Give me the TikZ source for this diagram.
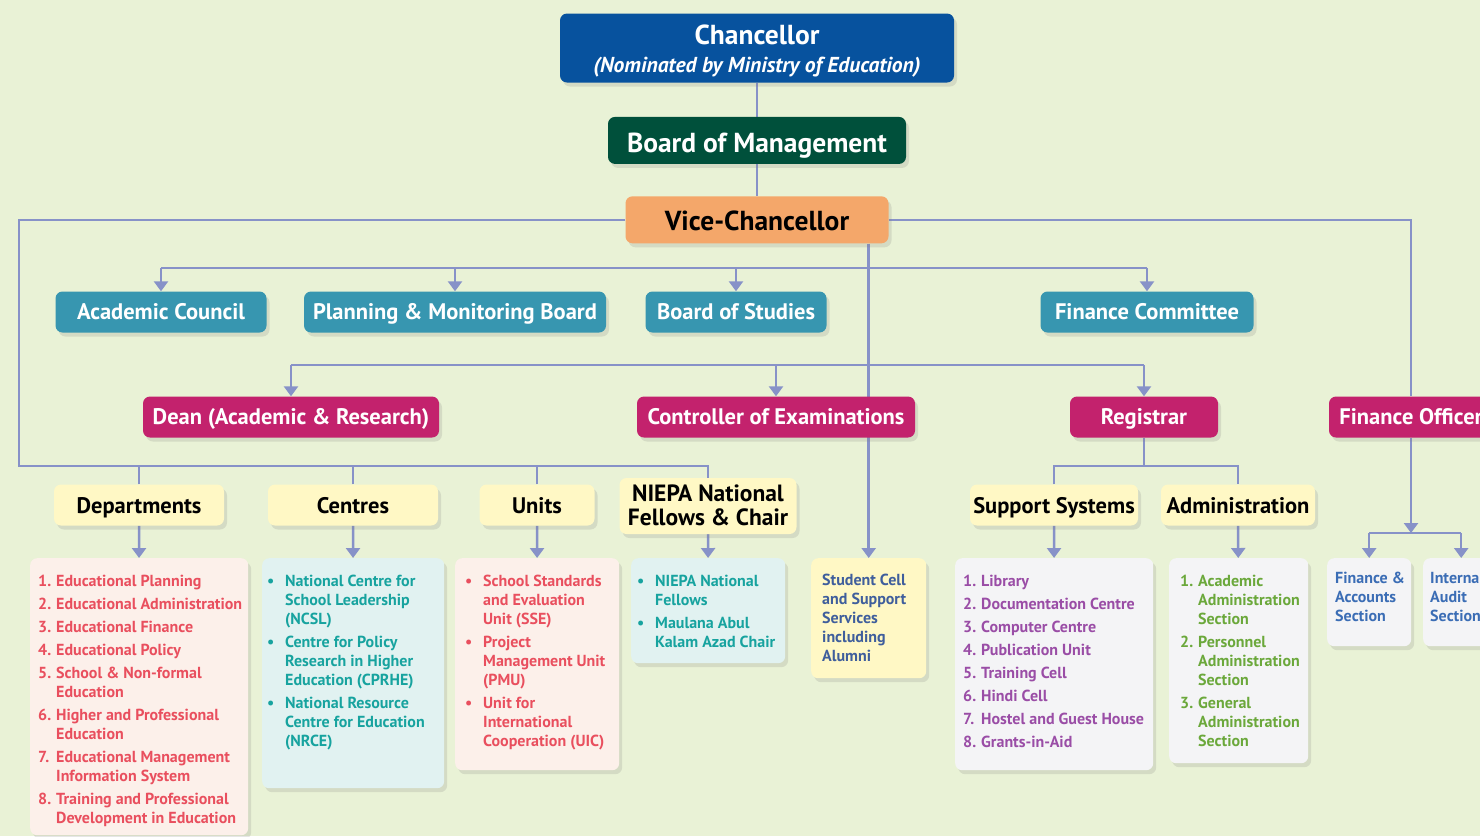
\documentclass[tikz,border=0pt]{standalone}
\usepackage{fontspec}
\setmainfont{PT Sans}
\usepackage{xcolor}
\usetikzlibrary{arrows.meta}
\usetikzlibrary{positioning}
\usetikzlibrary{shadows}

\definecolor{bgcol}{HTML}{E9F2D6}
\definecolor{chancol}{HTML}{07529E}
\definecolor{bomcol}{HTML}{00503B}
\definecolor{vccol}{HTML}{F4A76A}
\definecolor{tealcol}{HTML}{3796B0}
\definecolor{magcol}{HTML}{C3226D}
\definecolor{yelcol}{HTML}{FFF8C5}
\definecolor{wirecol}{HTML}{8792C8}
\definecolor{redtxt}{HTML}{E94F5E}
\definecolor{redbg}{HTML}{FCF0EA}
\definecolor{teatxt}{HTML}{17A39F}
\definecolor{teabg}{HTML}{E1F2F1}
\definecolor{stutxt}{HTML}{3F5E9C}
\definecolor{purtxt}{HTML}{9A4DA6}
\definecolor{greybg}{HTML}{F4F4F6}
\definecolor{grntxt}{HTML}{6BA83B}
\definecolor{blutxt}{HTML}{3B6DB5}

\pgfdeclarelayer{back}
\pgfdeclarelayer{wires}
\pgfsetlayers{back,wires,main}

\newcommand{\numlist}[1]{\begin{tabular}{@{}p{18pt}@{}l@{}}#1\end{tabular}}
\newcommand{\bullist}[1]{\begin{tabular}{@{}p{18pt}@{}l@{}}#1\end{tabular}}

\tikzset{
	box/.style={rounded corners=7pt, inner sep=0pt, align=center,
		drop shadow={opacity=0.2, shadow xshift=3pt, shadow yshift=-4pt}},
	bigbox/.style={box, text=white, text depth=0pt, font=\fontsize{27.5}{30}\selectfont\bfseries},
	tealbox/.style={box, fill=tealcol, text=white, minimum height=41pt,
		text height=15pt, text depth=0pt, font=\fontsize{22.5}{24}\selectfont\bfseries},
	redbox/.style={tealbox, fill=magcol},
	headbox/.style={box, fill=yelcol, minimum height=41pt,
		text height=17pt, text depth=0pt, font=\fontsize{22.5}{24}\selectfont\bfseries},
	listbox/.style={box, anchor=north west, fill=greybg},
	listtext/.style={anchor=north west, inner sep=0pt, align=left,
		font=\fontsize{16}{19}\selectfont\bfseries},
	conn/.style={draw=wirecol, line width=2.5pt},
	arr/.style={conn, -{Triangle[width=14pt,length=10pt]}}
}

\begin{document}
\begin{tikzpicture}[x=1pt, y=-1pt]
	\useasboundingbox (0,0) rectangle (1480,836);
	\begin{pgfonlayer}{back}
		\fill[bgcol] (0,0) rectangle (1480,836);
	\end{pgfonlayer}

	% top of the chart
	\node[bigbox, fill=chancol, minimum width=394pt, minimum height=69pt, text height=49pt] (chan) at (757,48)
		{Chancellor\\[-2pt]{\fontsize{21.6}{24}\selectfont\itshape (Nominated by Ministry of Education)}};
	\node[bigbox, fill=bomcol, minimum width=298pt, minimum height=47pt, text height=23.5pt,
		below=34pt of chan] (bom) {Board of Management};
	\node[bigbox, fill=vccol, text=black, minimum width=263pt, minimum height=47pt, text height=21pt,
		below=32pt of bom] (vc) {Vice-Chancellor};

	% bodies
	\node[tealbox, minimum width=211pt] (ac) at (161,312) {Academic Council};
	\node[tealbox, minimum width=302pt] (pmb) at (455,312) {Planning \& Monitoring Board};
	\node[tealbox, minimum width=181pt] (bos) at (736,312) {Board of Studies};
	\node[tealbox, minimum width=213pt] (fc) at (1147,312) {Finance Committee};

	% officers
	\node[redbox, minimum width=296pt] (dean) at (291,417) {Dean (Academic \& Research)};
	\node[redbox, minimum width=278pt] (coe) at (776,417) {Controller of Examinations};
	\node[redbox, minimum width=148pt] (reg) at (1144,417) {Registrar};
	\node[redbox, minimum width=164pt] (fo) at (1411,417) {Finance Officer};

	% headings
	\node[headbox, minimum width=170pt] (dept) at (139,505) {Departments};
	\node[headbox, minimum width=170pt] (cen) at (353,505) {Centres};
	\node[headbox, minimum width=115pt] (units) at (537,505) {Units};
	\node[headbox, minimum width=177pt, minimum height=56pt, text height=38pt,
		font=\fontsize{23.5}{26}\selectfont\bfseries] (niepa) at (708,506)
		{NIEPA National\\[-2pt]Fellows \& Chair};
	\node[headbox, minimum width=168pt] (sup) at (1054,505) {Support Systems};
	\node[headbox, minimum width=154pt] (adm) at (1238,505) {Administration};

	% list boxes
	\node[listbox, fill=redbg, minimum width=218pt, minimum height=277pt] (dlist) at (30,558) {};
	\node[listbox, fill=teabg, minimum width=182pt, minimum height=230pt] (clist) at (262,558) {};
	\node[listbox, fill=redbg, minimum width=164pt, minimum height=212pt] (ulist) at (455,558) {};
	\node[listbox, fill=teabg, minimum width=154pt, minimum height=105pt] (nlist) at (631,558) {};
	\node[listbox, fill=yelcol, minimum width=115pt, minimum height=120pt] (scell) at (811,558) {};
	\node[listbox, minimum width=198pt, minimum height=212pt] (slist) at (955,558) {};
	\node[listbox, minimum width=139pt, minimum height=205pt] (alist) at (1169,558) {};
	\node[listbox, minimum width=84pt, minimum height=88pt] (fa) at (1327,558) {};
	\node[listbox, minimum width=76pt, minimum height=88pt] (ia) at (1423,558) {};

	\node[listtext, text=redtxt] (dlist-t) at ([shift={(8,15)}]dlist.north west) {\numlist{
		1. & Educational Planning\\[4pt]
		2. & Educational Administration\\[4pt]
		3. & Educational Finance\\[4pt]
		4. & Educational Policy\\[4pt]
		5. & School \& Non-formal\\ & Education\\[4pt]
		6. & Higher and Professional\\ & Education\\[4pt]
		7. & Educational Management\\ & Information System\\[4pt]
		8. & Training and Professional\\ & Development in Education}};
	\node[listtext, text=teatxt] (clist-t) at ([shift={(5,15)}]clist.north west) {\bullist{
		\textbullet & National Centre for\\ & School Leadership\\ & (NCSL)\\[4pt]
		\textbullet & Centre for Policy\\ & Research in Higher\\ & Education (CPRHE)\\[4pt]
		\textbullet & National Resource\\ & Centre for Education\\ & (NRCE)}};
	\node[listtext, text=redtxt] (ulist-t) at ([shift={(10,15)}]ulist.north west) {\bullist{
		\textbullet & School Standards\\ & and Evaluation\\ & Unit (SSE)\\[4pt]
		\textbullet & Project\\ & Management Unit\\ & (PMU)\\[4pt]
		\textbullet & Unit for\\ & International\\ & Cooperation (UIC)}};
	\node[listtext, text=teatxt] (nlist-t) at ([shift={(6,15)}]nlist.north west) {\bullist{
		\textbullet & NIEPA National\\ & Fellows\\[4pt]
		\textbullet & Maulana Abul\\ & Kalam Azad Chair}};
	\node[listtext, text=stutxt] (scell-t) at ([shift={(11,16)}]scell.north west)
		{Student Cell\\and Support\\Services\\including\\Alumni};
	\node[listtext, text=purtxt] (slist-t) at ([shift={(8,15)}]slist.north west) {\numlist{
		1. & Library\\[4pt]
		2. & Documentation Centre\\[4pt]
		3. & Computer Centre\\[4pt]
		4. & Publication Unit\\[4pt]
		5. & Training Cell\\[4pt]
		6. & Hindi Cell\\[4pt]
		7. & Hostel and Guest House\\[4pt]
		8. & Grants-in-Aid}};
	\node[listtext, text=grntxt] (alist-t) at ([shift={(11,15)}]alist.north west) {\numlist{
		1. & Academic\\ & Administration\\ & Section\\[4pt]
		2. & Personnel\\ & Administration\\ & Section\\[4pt]
		3. & General\\ & Administration\\ & Section}};
	\node[listtext, text=blutxt] (fa-t) at ([shift={(8,14)}]fa.north west)
		{Finance \&\\Accounts\\Section};
	\node[listtext, text=blutxt] (ia-t) at ([shift={(7,14)}]ia.north west)
		{Internal\\Audit\\Section};

	\coordinate (lbus) at (19,466);
	\coordinate (tbus) at (869,268);
	\coordinate (mbus) at (869,365);
	\coordinate (rbus) at (1144,466);
	\coordinate (fbus) at (1411,533);

	\begin{pgfonlayer}{wires}
		\draw[conn] (chan) -- (bom);
		\draw[conn] (bom) -- (vc);
		\draw[conn] (vc.west) -| (lbus) -| (niepa.north);
		\foreach \n in {dept,cen,units}
			\draw[conn] (\n.north) -- (\n.north |- lbus);
		\draw[conn] (vc.east) -| (fo.north);
		\draw[arr] (vc.south -| scell.north) -- (scell.north);

		\draw[conn] (ac.north |- tbus) -- (fc.north |- tbus);
		\foreach \n in {ac,pmb,bos,fc}
			\draw[arr] (\n.north |- tbus) -- (\n.north);
		\draw[conn] (dean.north |- mbus) -- (reg.north |- mbus);
		\foreach \n in {dean,coe,reg}
			\draw[arr] (\n.north |- mbus) -- (\n.north);

		\draw[conn] (reg) -- (rbus);
		\draw[conn] (sup.north) |- (rbus) -| (adm.north);

		\draw[arr] (dept) -- (dlist);
		\draw[arr] (cen) -- (clist);
		\draw[arr] (units) -- (ulist);
		\draw[arr] (niepa) -- (nlist);
		\draw[arr] (sup) -- (slist);
		\draw[arr] (adm) -- (alist);

		\draw[arr] (fo) -- (fbus);
		\draw[conn] (fa.north |- fbus) -- (ia.north |- fbus);
		\draw[arr] (fa.north |- fbus) -- (fa.north);
		\draw[arr] (ia.north |- fbus) -- (ia.north);
	\end{pgfonlayer}
\end{tikzpicture}
\end{document}
